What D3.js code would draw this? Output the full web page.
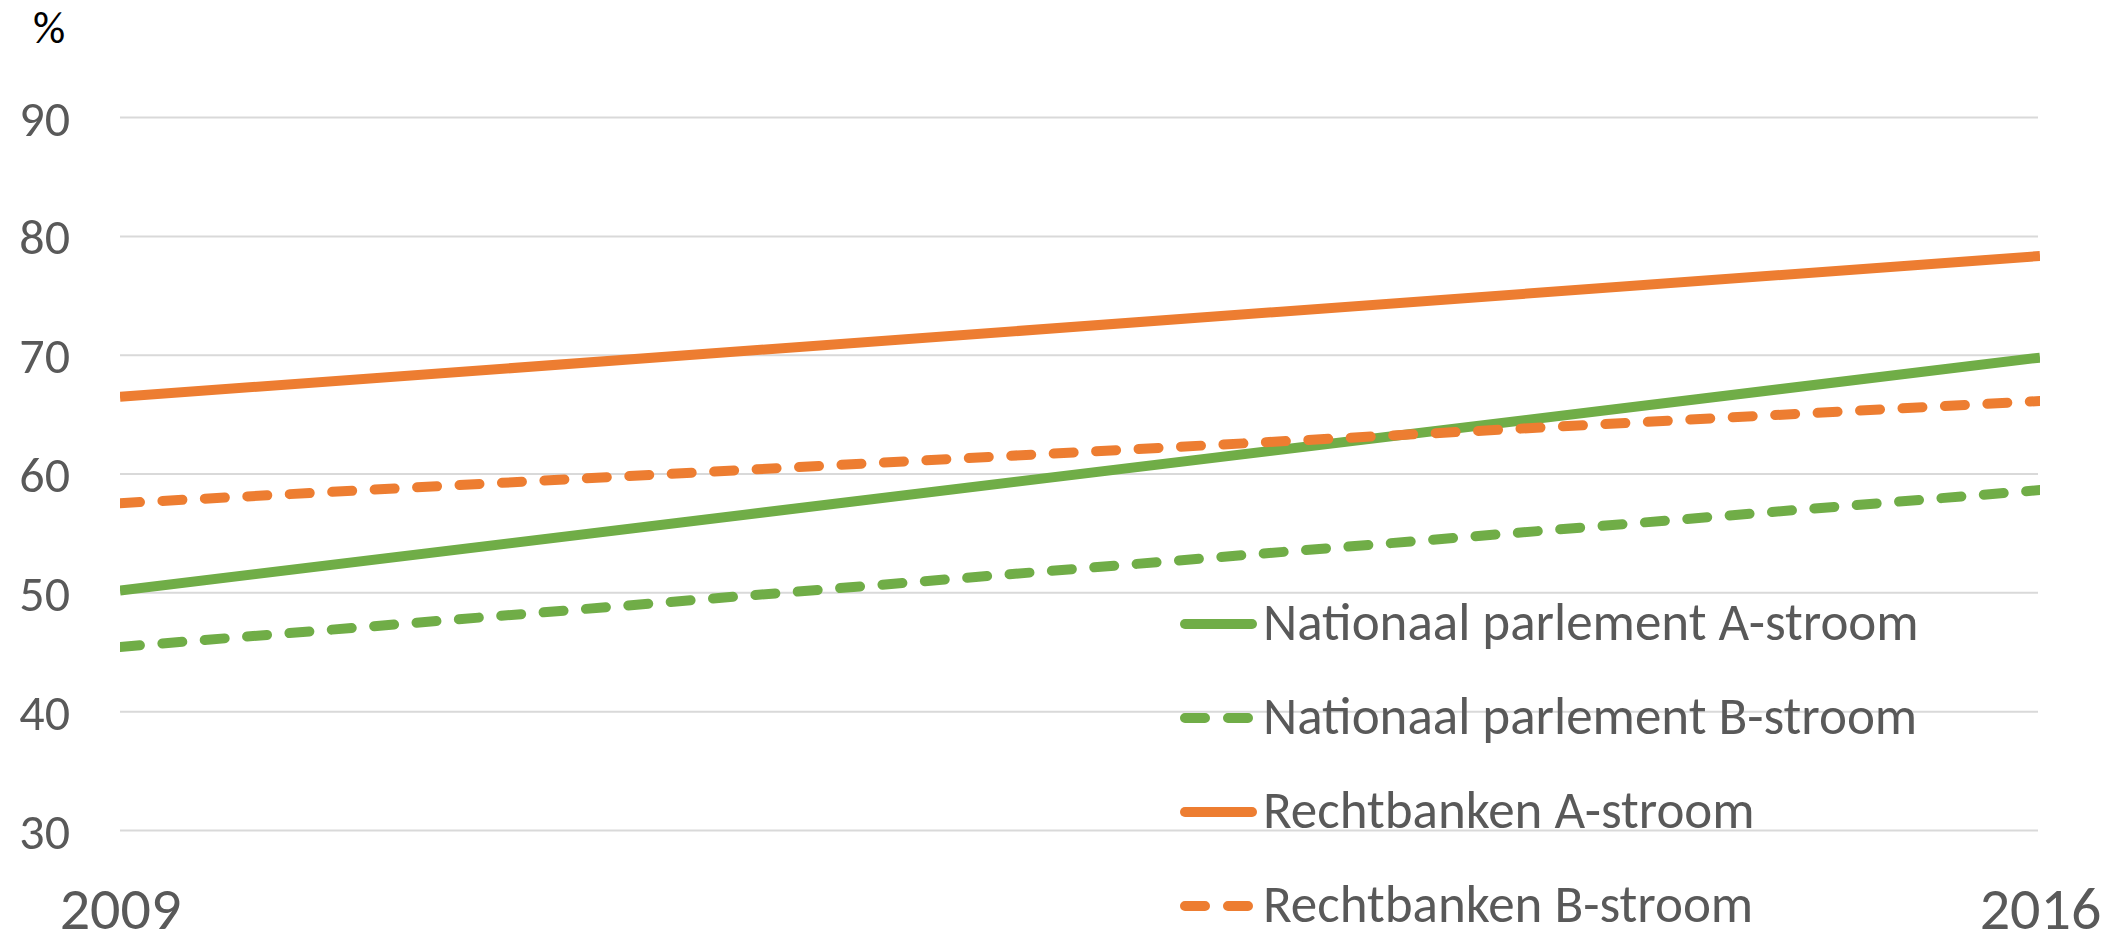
<!DOCTYPE html>
<html><head><meta charset="utf-8">
<script src="https://cdn.jsdelivr.net/npm/d3@7"></script>
<style>
html,body{margin:0;padding:0;background:#fff;}
svg{display:block;}
</style></head>
<body>
<svg id="chart" width="2118" height="937"></svg>
<script>
const categories = ["2009", "2016"];
const seriesNames = ["Nationaal parlement A-stroom", "Nationaal parlement B-stroom", "Rechtbanken A-stroom", "Rechtbanken B-stroom"];
const nationaalA = [50.2, 69.8];
const nationaalB = [45.45, 58.65];
const rechtbankenA = [66.5, 78.35];
const rechtbankenB = [57.55, 66.15];
const yTicks = [30, 40, 50, 60, 70, 80, 90];
const yUnit = "%";

const FONT = "Carlito, 'Liberation Sans Narrow', 'Open Sans', sans-serif";
const series = [
  {name: seriesNames[0], values: nationaalA, color: "#70AD47", dashed: false},
  {name: seriesNames[1], values: nationaalB, color: "#70AD47", dashed: true},
  {name: seriesNames[2], values: rechtbankenA, color: "#ED7D31", dashed: false},
  {name: seriesNames[3], values: rechtbankenB, color: "#ED7D31", dashed: true}
];

const svg = d3.select("#chart");
const x = d3.scalePoint().domain(categories).range([120, 2040]);
const y = d3.scaleLinear().domain([30, 90]).range([830.5, 117.6]);

// gridlines
svg.append("g").selectAll("line").data(yTicks).join("line")
  .attr("x1", 120).attr("x2", 2038)
  .attr("y1", d => y(d)).attr("y2", d => y(d))
  .attr("stroke", "#D9D9D9").attr("stroke-width", 2);

// y axis labels
const yAxis = d3.axisLeft(y).tickValues(yTicks).tickSize(0).tickPadding(0);
const gy = svg.append("g").attr("transform", "translate(70,0)").call(yAxis);
gy.select(".domain").remove();
gy.selectAll("text").attr("font-family", FONT).attr("font-size", 50).attr("fill", "#595959").attr("dy", "0.35em");

// x axis labels
const xAxis = d3.axisBottom(x).tickSize(0).tickPadding(0);
const gx = svg.append("g").attr("transform", "translate(0,929)").call(xAxis);
gx.select(".domain").remove();
gx.selectAll("text").attr("font-family", FONT).attr("font-size", 60).attr("fill", "#595959").attr("dy", 0).attr("y", 0);

// unit
svg.append("text").attr("x", 33).attr("y", 43).text(yUnit)
  .attr("font-family", FONT).attr("font-size", 45).attr("fill", "#000");

// clip
svg.append("clipPath").attr("id", "plotclip").append("rect")
  .attr("x", 120).attr("y", 0).attr("width", 1920).attr("height", 937);

const line = d3.line().x((d, i) => x(categories[i])).y(d => y(d));
const gl = svg.append("g").attr("clip-path", "url(#plotclip)");
gl.selectAll("path").data(series).join("path")
  .attr("d", d => line(d.values))
  .attr("fill", "none")
  .attr("stroke", d => d.color)
  .attr("stroke-width", 10)
  .attr("stroke-linecap", d => d.dashed ? "round" : "butt")
  .attr("stroke-dasharray", d => d.dashed ? "20,22.5" : null);

// legend
const lg = svg.append("g");
const rowY = d3.scaleLinear().domain([0, 3]).range([624, 906]);
series.forEach((s, i) => {
  const ly = rowY(i);
  lg.append("line").attr("x1", 1185).attr("x2", 1252).attr("y1", ly).attr("y2", ly)
    .attr("stroke", s.color).attr("stroke-width", 10).attr("stroke-linecap", "round")
    .attr("stroke-dasharray", s.dashed ? "20,23" : null);
  lg.append("text").attr("x", 1263).attr("y", ly + 16).text(s.name)
    .attr("font-family", FONT).attr("font-size", 53).attr("fill", "#595959");
});
</script>
</body></html>
